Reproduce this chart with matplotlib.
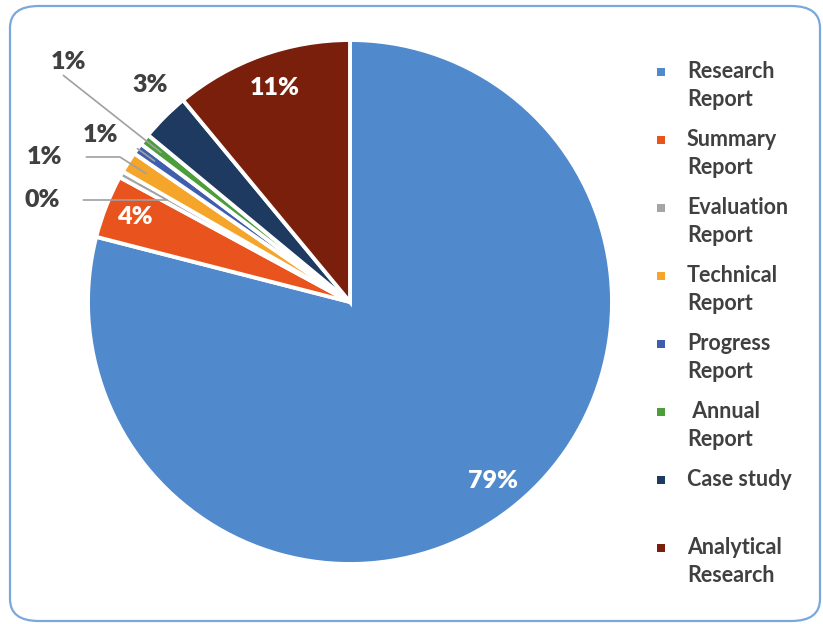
import matplotlib.pyplot as plt
import numpy as np
from matplotlib.patches import FancyBboxPatch, Rectangle

categories = ["Research\nReport", "Summary\nReport", "Evaluation\nReport", "Technical\nReport",
              "Progress\nReport", " Annual\nReport", "Case study\n", "Analytical\nResearch"]
shares = [79.0, 3.9, 0.4, 1.3, 0.7, 0.7, 3.0, 11.0]
pct_labels = ["79%", "4%", "0%", "1%", "1%", "1%", "3%", "11%"]
colors = ["#5089cc", "#e9531d", "#a5a5a5", "#f5a52a", "#3f5fae", "#4c9e3c", "#1f3a60", "#7a1f0c"]

plt.rcParams['font.family'] = ['Lato', 'DejaVu Sans']
plt.rcParams['font.weight'] = 'bold'

fig = plt.figure(figsize=(8.23, 6.24), dpi=100)
W, H = 823, 624

# rounded frame
frame = FancyBboxPatch((10 / W, 1 - 621 / H), 810 / W, 615 / H,
                       boxstyle="round,pad=0,rounding_size=0.035",
                       transform=fig.transFigure, facecolor="white",
                       edgecolor="#7aa8dc", linewidth=1.6, zorder=-5)
fig.patches.append(frame)

cx, cy, r = 350, 302, 262
ax = fig.add_axes([(cx - r) / W, (H - cy - r) / H, 2 * r / W, 2 * r / H])
ax.set_zorder(2)
wedges, _ = ax.pie(shares, colors=colors, startangle=90, counterclock=False,
                   wedgeprops=dict(edgecolor="white", linewidth=2.8))
ax.set_xlim(-1, 1)
ax.set_ylim(-1, 1)
ax.set_aspect('auto')
ax.axis('off')


def px(x, y):
    return ((x - cx) / r, (cy - y) / r)


# label positions in pixel coordinates (layout), leader flag
label_pos = [(493, 481, False), (135, 217, False), (42, 200, True), (45, 157, True),
             (100, 135, True), (68, 62, True), (150, 85, False), (275, 88, False)]
inside_white = [True, True, False, False, False, False, False, True]

for i, w in enumerate(wedges):
    mid = np.deg2rad((w.theta1 + w.theta2) / 2)
    x, y, lead = label_pos[i]
    col = "white" if inside_white[i] else "#404040"
    if lead:
        tip = (0.92 * np.cos(mid), 0.92 * np.sin(mid))
        ax.annotate(pct_labels[i], xy=tip, xytext=px(x, y), ha="center", va="center",
                    fontsize=18, color=col, fontweight="heavy", annotation_clip=False,
                    arrowprops=dict(arrowstyle="-", color="#a0a0a0", lw=1.2,
                                    shrinkA=15, shrinkB=0,
                                    connectionstyle="angle,angleA=0,angleB=%.1f,rad=0"
                                    % np.rad2deg(mid)))
    else:
        ax.text(*px(x, y), pct_labels[i], ha="center", va="center", fontsize=18,
                color=col, fontweight="heavy")

# legend
for i, lab in enumerate(categories):
    ytop = 72 + 68 * i
    fig.patches.append(Rectangle(((661 - 4) / W, 1 - (ytop + 4) / H), 8 / W, 8 / H,
                                 transform=fig.transFigure, facecolor=colors[i],
                                 edgecolor="none"))
    for j, line in enumerate(lab.split("\n")):
        fig.text(687 / W, 1 - (ytop + 28 * j) / H, line, ha="left", va="center",
                 fontsize=15.5, color="#404040", fontweight="bold")

fig.savefig("out.png", dpi=100)
